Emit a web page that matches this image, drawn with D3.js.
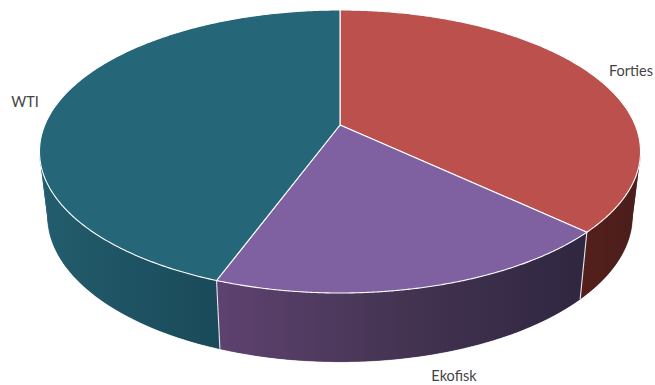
<!DOCTYPE html>
<html>
<head>
<meta charset="utf-8">
<script src="https://cdn.jsdelivr.net/npm/d3@7/dist/d3.min.js"></script>
<style>
  html, body { margin: 0; padding: 0; background: #fff; }
  svg { display: block; }
  text { font-family: Lato, "Open Sans", sans-serif; font-size: 14.5px; fill: #444; }
</style>
</head>
<body>
<svg id="chart" width="655" height="385"></svg>
<script>
// Crude oil benchmark shares, clockwise from twelve o'clock
const categories = ["Forties", "Ekofisk", "WTI"];
const shares = [37.0, 18.6, 44.4];
const topColors = ["#bc504d", "#7f60a0", "#256779"];
const wallStops = [
  ["#541f1c", "#4a1e1b"],
  ["#5e4270", "#443452", "#2f2640"],
  ["#235d6d", "#1e5363", "#1a4a59"]
];
const labelAnchors = [[631, 76], [454, 381], [25, 107]];

const W = 655, H = 385;
const svg = d3.select("#chart").attr("viewBox", [0, 0, W, H]);
const defs = svg.append("defs");

// Perspective mapping of the disc: the centre projects above the middle of the rim
const cx = 340, apexY = 125;
const nearY = 293, farY = 10, halfWidth = 295.2;
const persp = (farY + nearY - 2 * apexY) / (farY - nearY);
const slope = nearY * (1 + persp) - apexY;
const topPoint = angle => {
  const u = Math.sin(angle), v = -Math.cos(angle), w = 1 + persp * v;
  return [cx + halfWidth * u / w, (slope * v + apexY) / w];
};
// The lower rim is slightly narrower and set lower than the upper rim
const baseX = 0.973, baseY = 1.03, baseShift = 59.9;
const basePoint = angle => {
  const [x, y] = topPoint(angle);
  return [cx + (x - cx) * baseX, y * baseY + baseShift];
};

const pie = d3.pie().sort(null).startAngle(0).endAngle(2 * Math.PI);
const arcs = pie(shares);
const line = d3.line();
const sampleAngles = a => d3.range(0, 241).map(i => a.startAngle + (a.endAngle - a.startAngle) * i / 240);

// Walls first, each slice with its own horizontal shading; the far side stays hidden
const frontOnly = 0.16;
arcs.forEach((a, i) => {
  const angles = sampleAngles(a).filter(t => -Math.cos(t) > frontOnly);
  const upper = angles.map(topPoint), lower = angles.map(basePoint);
  const xs = upper.concat(lower).map(p => p[0]);
  const grad = defs.append("linearGradient")
    .attr("id", "wall" + i).attr("gradientUnits", "userSpaceOnUse")
    .attr("x1", d3.min(xs)).attr("x2", d3.max(xs)).attr("y1", 0).attr("y2", 0);
  wallStops[i].forEach((c, k, all) => {
    grad.append("stop").attr("offset", k / (all.length - 1)).attr("stop-color", c);
  });

  // Bands trace the cylinder's silhouette, the solid outline on top closes their seams
  const g = svg.append("g").attr("fill", `url(#wall${i})`);
  d3.range(0, upper.length - 1, 6).forEach(k => {
    const next = Math.min(k + 6, upper.length - 1);
    g.append("path").attr("d", line([upper[k], upper[next], lower[next], lower[k]]) + "Z");
  });
  g.append("path")
    .attr("d", line(upper.concat(lower.slice().reverse())) + "Z")
    .attr("stroke", `url(#wall${i})`).attr("stroke-width", 0.5);
});

// White seams down the front of the wall
arcs.forEach(a => {
  if (-Math.cos(a.startAngle) > 0) {
    svg.append("line")
      .attr("x1", topPoint(a.startAngle)[0]).attr("y1", topPoint(a.startAngle)[1])
      .attr("x2", basePoint(a.startAngle)[0]).attr("y2", basePoint(a.startAngle)[1])
      .attr("stroke", "#e8e8ee").attr("stroke-width", 1.1);
  }
});

// Top faces
arcs.forEach((a, i) => {
  const pts = [[cx, apexY]].concat(sampleAngles(a).map(topPoint));
  svg.append("path")
    .attr("d", line(pts) + "Z")
    .attr("fill", topColors[i])
    .attr("stroke", "#fff").attr("stroke-width", 1.1).attr("stroke-linejoin", "round");
});

// Category labels
svg.append("g").selectAll("text").data(categories).join("text")
  .attr("x", (d, i) => labelAnchors[i][0])
  .attr("y", (d, i) => labelAnchors[i][1])
  .attr("text-anchor", "middle")
  .text(d => d);
</script>
</body>
</html>
